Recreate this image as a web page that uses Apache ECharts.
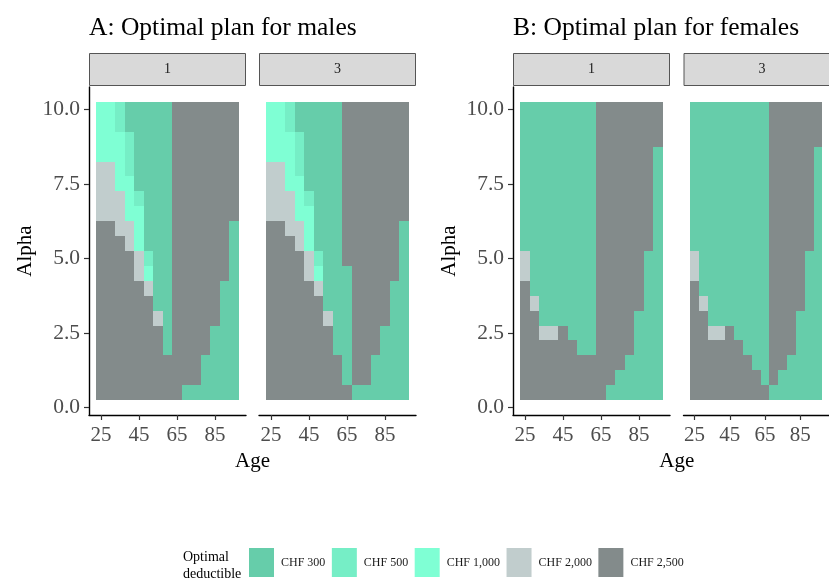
<!DOCTYPE html>
<html>
<head>
<meta charset="utf-8">
<script src="https://cdn.jsdelivr.net/npm/echarts@6/dist/echarts.min.js"></script>
<style>
  html, body { margin: 0; padding: 0; background: #ffffff; }
  #chart { width: 829px; height: 585px; }
</style>
</head>
<body>
<div id="chart"></div>
<script>
// Ages (columns) and alpha values (rows, listed from top to bottom)
const ages = [25, 30, 35, 40, 45, 50, 55, 60, 65, 70, 75, 80, 85, 90, 95];
const alphas = [10.0, 9.5, 9.0, 8.5, 8.0, 7.5, 7.0, 6.5, 6.0, 5.5, 5.0, 4.5, 4.0, 3.5, 3.0, 2.5, 2.0, 1.5, 1.0, 0.5];

// Deductible levels; the digits in the plan grids index into these
const deductibles = ['CHF 300', 'CHF 500', 'CHF 1,000', 'CHF 2,000', 'CHF 2,500'];
const deductibleColors = ['#66CDAA', '#76EEC6', '#7FFFD4', '#C1CDCD', '#838B8B'];

const ageTicks = [25, 45, 65, 85];
const alphaTicks = [0, 2.5, 5, 7.5, 10];
const panelTitles = ['A: Optimal plan for males', 'B: Optimal plan for females'];
const facetLabels = ['1', '3'];

// Optimal plan per (alpha row, age column)
const malesFacet1 = [
  '221000004444444',
  '221000004444444',
  '222100004444444',
  '222100004444444',
  '332100004444444',
  '332200004444444',
  '333210004444444',
  '333220004444444',
  '443320004444440',
  '444320004444440',
  '444431004444440',
  '444432004444440',
  '444443004444400',
  '444444004444400',
  '444444304444400',
  '444444404444000',
  '444444404444000',
  '444444444440000',
  '444444444440000',
  '444444444000000'
];
const malesFacet3 = [
  '221000004444444',
  '221000004444444',
  '222100004444444',
  '222100004444444',
  '332100004444444',
  '332200004444444',
  '333210004444444',
  '333220004444444',
  '443320004444440',
  '444320004444440',
  '444431004444440',
  '444432000444440',
  '444443000444400',
  '444444000444400',
  '444444300444400',
  '444444400444000',
  '444444400444000',
  '444444440440000',
  '444444440440000',
  '444444444000000'
];
const femalesFacet1 = [
  '000000004444444',
  '000000004444444',
  '000000004444444',
  '000000004444440',
  '000000004444440',
  '000000004444440',
  '000000004444440',
  '000000004444440',
  '000000004444440',
  '000000004444440',
  '300000004444400',
  '300000004444400',
  '400000004444400',
  '430000004444400',
  '440000004444000',
  '443340004444000',
  '444444004444000',
  '444444444440000',
  '444444444400000',
  '444444444000000'
];
const femalesFacet3 = [
  '000000000444444',
  '000000000444444',
  '000000000444444',
  '000000000444440',
  '000000000444440',
  '000000000444440',
  '000000000444440',
  '000000000444440',
  '000000000444440',
  '000000000444440',
  '300000000444400',
  '300000000444400',
  '400000000444400',
  '430000000444400',
  '440000000444000',
  '443340000444000',
  '444444000444000',
  '444444400440000',
  '444444440400000',
  '444444444000000'
];

const facetGrids = [malesFacet1, malesFacet3, femalesFacet1, femalesFacet3];

// ---- layout ----
const FONT = 'Liberation Serif';
const gridLefts = [89, 259, 513, 683.5];
const GRID_W = 157, GRID_TOP = 87, GRID_H = 328;
const STRIP_TOP = 53, STRIP_H = 33;

// tile half-sizes and ggplot-style 5% axis expansion
const halfAge = (ages[1] - ages[0]) / 2;
const halfAlpha = (alphas[0] - alphas[1]) / 2;
const xLo = ages[0] - halfAge, xHi = ages[ages.length - 1] + halfAge;
const yLo = alphas[alphas.length - 1] - halfAlpha, yHi = alphas[0] + halfAlpha;
const xPad = (xHi - xLo) * 0.05, yPad = (yHi - yLo) * 0.05;

// one tile per cell; edges snapped to whole pixels so neighbours meet without seams
function renderTile(params, api) {
  const a = api.value(0), al = api.value(1);
  const p0 = api.coord([a - halfAge, al + halfAlpha]);
  const p1 = api.coord([a + halfAge, al - halfAlpha]);
  const x0 = Math.round(p0[0]), y0 = Math.round(p0[1]);
  const x1 = Math.round(p1[0]), y1 = Math.round(p1[1]);
  return {
    type: 'rect',
    shape: { x: x0, y: y0, width: x1 - x0, height: y1 - y0 },
    style: { fill: api.visual('color'), stroke: null }
  };
}

const grids = gridLefts.map(l => ({ left: l, top: GRID_TOP, width: GRID_W, height: GRID_H }));

const xAxes = gridLefts.map((l, i) => ({
  type: 'value', gridIndex: i, min: xLo - xPad, max: xHi + xPad,
  splitLine: { show: false },
  axisLine: { show: true, onZero: false, lineStyle: { color: '#000', width: 1.4 } },
  axisTick: { show: true, length: 5, customValues: ageTicks, lineStyle: { color: '#333', width: 1.2 } },
  axisLabel: { customValues: ageTicks, fontFamily: FONT, fontSize: 21, color: '#4d4d4d', margin: 10 }
}));

const yAxes = gridLefts.map((l, i) => ({
  type: 'value', gridIndex: i, min: yLo - yPad, max: yHi + yPad,
  show: i % 2 === 0,
  splitLine: { show: false },
  axisLine: { show: true, onZero: false, lineStyle: { color: '#000', width: 1.4 } },
  axisTick: { show: true, length: 5, customValues: alphaTicks, lineStyle: { color: '#333', width: 1.2 } },
  axisLabel: { customValues: alphaTicks, fontFamily: FONT, fontSize: 21.5, color: '#4d4d4d', margin: 9,
    formatter: v => Number(v).toFixed(1) }
}));

const series = [];
facetGrids.forEach((rows, f) => {
  deductibles.forEach((name, code) => {
    const data = [];
    rows.forEach((row, r) => {
      for (let c = 0; c < ages.length; c++) {
        if (Number(row[c]) === code) data.push([ages[c], alphas[r]]);
      }
    });
    series.push({
      type: 'custom', name: name, xAxisIndex: f, yAxisIndex: f,
      renderItem: renderTile, clip: true,
      itemStyle: { color: deductibleColors[code] },
      encode: { x: 0, y: 1 },
      data: data
    });
  });
});

// titles, facet strips and axis titles
const graphics = [];
panelTitles.forEach((t, p) => {
  graphics.push({ type: 'text', left: gridLefts[p * 2], top: 15,
    style: { text: t, fontFamily: FONT, fontSize: 25.5, fill: '#000' } });
  const left = gridLefts[p * 2], right = gridLefts[p * 2 + 1] + GRID_W;
  graphics.push({ type: 'text', x: (left + right) / 2, y: 461,
    style: { text: 'Age', fontFamily: FONT, fontSize: 21, fill: '#000', align: 'center', verticalAlign: 'middle' } });
  graphics.push({ type: 'text', x: left - 64, y: GRID_TOP + GRID_H / 2, rotation: Math.PI / 2,
    style: { text: 'Alpha', fontFamily: FONT, fontSize: 21, fill: '#000', align: 'center', verticalAlign: 'middle' } });
});
gridLefts.forEach((l, i) => {
  graphics.push({ type: 'rect', shape: { x: l + 0.5, y: STRIP_TOP + 0.5, width: GRID_W - 1, height: STRIP_H - 1 },
    style: { fill: '#D9D9D9', stroke: '#555', lineWidth: 1 } });
  graphics.push({ type: 'text', x: l + GRID_W / 2, y: STRIP_TOP + STRIP_H / 2,
    style: { text: facetLabels[i % 2], fontFamily: FONT, fontSize: 14, fill: '#1a1a1a', align: 'center', verticalAlign: 'middle' } });
});
graphics.push({ type: 'text', x: 183, y: 566,
  style: { text: 'Optimal\ndeductible', fontFamily: FONT, fontSize: 14, lineHeight: 17, fill: '#000', verticalAlign: 'middle' } });

const chart = echarts.init(document.getElementById('chart'), null, { renderer: 'canvas' });
chart.setOption({
  animation: false,
  backgroundColor: '#ffffff',
  grid: grids,
  xAxis: xAxes,
  yAxis: yAxes,
  legend: {
    data: deductibles, left: 244, top: 543, orient: 'horizontal',
    icon: 'rect', itemWidth: 25, itemHeight: 29, itemGap: 6.5, selectedMode: false,
    textStyle: { fontFamily: FONT, fontSize: 12, color: '#1a1a1a', padding: [0, 0, 0, 2] }
  },
  graphic: graphics,
  series: series
});
</script>
</body>
</html>
